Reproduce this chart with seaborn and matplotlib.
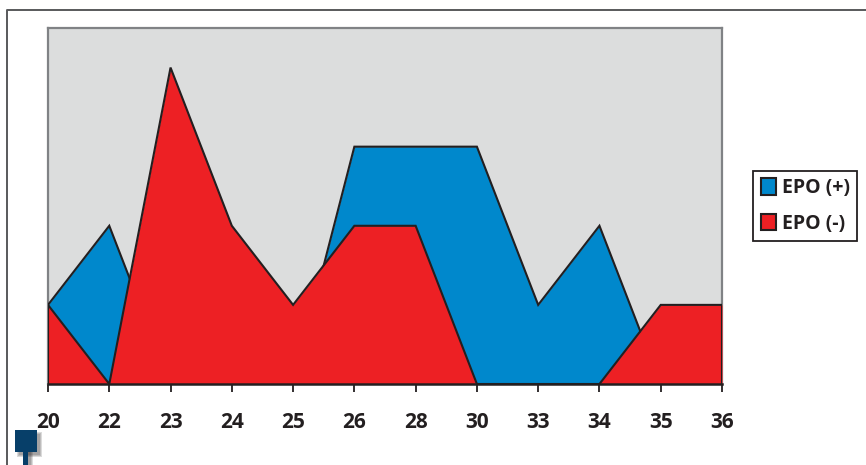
import matplotlib
matplotlib.use("Agg")
import matplotlib.pyplot as plt
from matplotlib.patches import Rectangle
import numpy as np
import pandas as pd
import seaborn as sns

# Chart data
doses = ["20", "22", "23", "24", "25", "26", "28", "30", "33", "34", "35", "36"]
epo_pos = [1, 2, 0, 0, 0, 3, 3, 3, 1, 2, 0, 0]
epo_neg = [1, 0, 4, 2, 1, 2, 2, 0, 0, 0, 1, 1]

BLUE = "#0088CC"
RED = "#ED2024"
INK = "#231F20"
PANEL = "#DCDDDD"
EDGE = "#808285"
NAVY = "#073F69"

sns.set_theme(style="white")
plt.rcParams["font.family"] = ["Open Sans", "DejaVu Sans"]

W, H = 866, 465
fig = plt.figure(figsize=(W / 100, H / 100), dpi=100, facecolor="white")


def px_rect(x0, y0, x1, y1):
    """Convert a pixel box (origin top-left) to figure coordinates."""
    return [x0 / W, 1 - y1 / H, (x1 - x0) / W, (y1 - y0) / H]


ax = fig.add_axes(px_rect(48, 28, 722, 384), facecolor=PANEL)

frame = pd.DataFrame({
    "pos": np.arange(len(doses)),
    "dose": doses,
    "EPO (+)": epo_pos,
    "EPO (-)": epo_neg,
})

# Overlapping areas, the red series in front of the blue one
for name, color, z in (("EPO (+)", BLUE, 2), ("EPO (-)", RED, 3)):
    ax.fill_between(frame["pos"], 0, frame[name], color=color, lw=0, zorder=z)
    sns.lineplot(data=frame, x="pos", y=name, ax=ax, color=INK, lw=1.5,
                 zorder=z + 0.1, legend=False, errorbar=None, solid_joinstyle="miter")
    ax.vlines([0, len(doses) - 1], 0, [frame[name].iloc[0], frame[name].iloc[-1]],
              color=INK, lw=1.5, zorder=z + 0.1)

ax.set_xlim(0, len(doses) - 1)
ax.set_ylim(0, 4.5)
ax.set_xlabel("")
ax.set_ylabel("")
ax.set_yticks([])
ax.set_xticks(frame["pos"], doses, fontsize=15, fontweight="bold", color=INK)
ax.tick_params(axis="x", length=6, width=1.3, color=INK, pad=14.5, bottom=True)

for side in ("top", "left", "right"):
    ax.spines[side].set_color(EDGE)
    ax.spines[side].set_linewidth(1.6)
    ax.spines[side].set_zorder(1.5)
ax.spines["bottom"].set_color(INK)
ax.spines["bottom"].set_linewidth(1.8)
ax.spines["bottom"].set_zorder(5)

# Legend
handles = [
    Rectangle((0, 0), 1, 1, facecolor=BLUE, edgecolor=INK, lw=1.5),
    Rectangle((0, 0), 1, 1, facecolor=RED, edgecolor=INK, lw=1.5),
]
leg = fig.legend(
    handles, ["EPO (+)", "EPO (-)"],
    loc="center", bbox_to_anchor=(805 / W, 1 - 206 / H),
    prop={"family": "Open Sans", "weight": "bold", "size": 14},
    labelcolor=INK, frameon=True, fancybox=False, framealpha=1,
    edgecolor=INK, handlelength=0.82, handleheight=0.95, handletextpad=0.26,
    labelspacing=0.78, borderpad=0.40, borderaxespad=0,
)
leg.get_frame().set_linewidth(1.3)

# Outer page rule: open on the right and along the bottom
fig.add_artist(plt.Line2D([7.5 / W, 7.5 / W, 1], [0, 1 - 10.5 / H, 1 - 10.5 / H],
                          transform=fig.transFigure, color="#58595B", lw=1.4))


def add_box(x0, y0, x1, y1, color, alpha=1.0, zorder=1):
    fig.add_artist(Rectangle((x0 / W, 1 - y1 / H), (x1 - x0) / W, (y1 - y0) / H,
                             transform=fig.transFigure, facecolor=color, lw=0,
                             alpha=alpha, zorder=zorder))


# Page marker with a soft drop shadow
for grow in range(3, 0, -1):
    add_box(17 - grow + 3, 433 - grow + 2, 37 + grow + 2, 452 + grow + 2, "#231F20", 0.16, 1)
    add_box(24 - grow + 2, 452, 28 + grow + 2, 465, "#231F20", 0.16, 1)
add_box(15, 430, 37, 452, NAVY, zorder=2)
add_box(23, 452, 28, 465, NAVY, zorder=2)

fig.savefig("out.png", dpi=100, facecolor="white")
